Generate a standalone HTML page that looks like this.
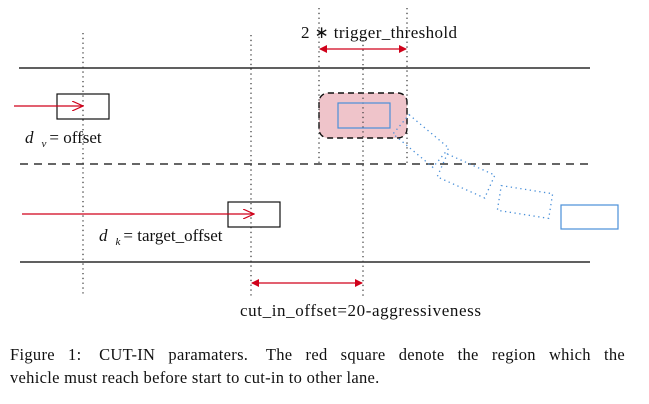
<!DOCTYPE html>
<html><head><meta charset="utf-8"><style>
body{margin:0;background:#fff;width:649px;height:404px;overflow:hidden;font-family:"Liberation Serif",serif}
svg{position:absolute;left:0;top:0}
.cap{position:absolute;left:10px;top:343px;width:615px;font-size:16.5px;line-height:23px;color:#111;letter-spacing:0.3px}
.l1{text-align:justify;text-align-last:justify;white-space:nowrap;display:flex;justify-content:space-between}
</style></head><body>
<svg width="649" height="404">
<defs>
<marker id="ah" markerWidth="8" markerHeight="8" refX="7" refY="4" orient="auto" markerUnits="userSpaceOnUse"><path d="M0,0 L8,4 L0,8 Z" fill="#d0021b"/></marker>
<marker id="ahs" markerWidth="8" markerHeight="8" refX="1" refY="4" orient="auto" markerUnits="userSpaceOnUse"><path d="M8,0 L0,4 L8,8 Z" fill="#d0021b"/></marker>
<marker id="oa" markerWidth="12" markerHeight="10" refX="11" refY="5" orient="auto" markerUnits="userSpaceOnUse"><path d="M0,0 L11,5 L0,10" fill="none" stroke="#d0021b" stroke-width="1.2"/></marker>
</defs>
<g>
<line x1="19" y1="68" x2="590" y2="68" stroke="#000" stroke-width="1.2"/>
<line x1="20" y1="164" x2="590" y2="164" stroke="#333" stroke-width="1.6" stroke-dasharray="8,6"/>
<line x1="20" y1="262" x2="590" y2="262" stroke="#000" stroke-width="1.2"/>
</g>
<rect x="319" y="93" width="88" height="45" rx="9" fill="#efc4ca" stroke="#111" stroke-width="1.4" stroke-dasharray="6,4"/>
<g stroke="#444" stroke-width="1.3" stroke-dasharray="1.3,3.5">
<line x1="83" y1="33" x2="83" y2="297"/>
<line x1="251" y1="35" x2="251" y2="297"/>
<line x1="319" y1="8" x2="319" y2="164"/>
<line x1="363" y1="40" x2="363" y2="297"/>
<line x1="407" y1="8" x2="407" y2="164"/>
</g>
<rect x="57" y="94" width="52" height="25" fill="none" stroke="#111" stroke-width="1.2"/>
<rect x="228" y="202" width="52" height="25" fill="none" stroke="#111" stroke-width="1.2"/>
<rect x="338" y="103" width="52" height="25" fill="none" stroke="#4a90d9" stroke-width="1.2"/>
<g fill="none" stroke="#4a90d9" stroke-width="1.3" stroke-dasharray="1.3,3.5">
<rect x="-26" y="-12.5" width="52" height="25" transform="translate(421,141) rotate(40)"/>
<rect x="-26" y="-12.5" width="52" height="25" transform="translate(466,176) rotate(24)"/>
<rect x="-26" y="-12.5" width="52" height="25" transform="translate(525,202) rotate(9)"/>
</g>
<rect x="561" y="205" width="57" height="24" fill="none" stroke="#4a90d9" stroke-width="1.2"/>
<line x1="14" y1="106" x2="83" y2="106" stroke="#d0021b" stroke-width="1.3" marker-end="url(#oa)"/>
<line x1="22" y1="214" x2="254" y2="214" stroke="#d0021b" stroke-width="1.3" marker-end="url(#oa)"/>
<line x1="320" y1="49" x2="406" y2="49" stroke="#d0021b" stroke-width="1.3" marker-start="url(#ahs)" marker-end="url(#ah)"/>
<line x1="252" y1="283" x2="362" y2="283" stroke="#d0021b" stroke-width="1.3" marker-start="url(#ahs)" marker-end="url(#ah)"/>
<g font-family="Liberation Serif, serif" font-size="17" fill="#111">
<text x="301" y="38" textLength="156" lengthAdjust="spacing">2 ∗ trigger_threshold</text>
<text x="25" y="143"><tspan font-style="italic">d</tspan><tspan font-size="11" font-style="italic" dx="8" dy="4">v</tspan><tspan dy="-4" dx="3">= offset</tspan></text>
<text x="99" y="241"><tspan font-style="italic">d</tspan><tspan font-size="11" font-style="italic" dx="8" dy="4">k</tspan><tspan dy="-4" dx="3">= target_offset</tspan></text>
<text x="240" y="316" textLength="241" lengthAdjust="spacing">cut_in_offset=20-aggressiveness</text>
</g>
</svg>
<div class="cap"><div class="l1"><span>Figure</span><span>1:</span><span>&nbsp;CUT-IN</span><span>paramaters.</span><span>&nbsp;The</span><span>red</span><span>square</span><span>denote</span><span>the</span><span>region</span><span>which</span><span>the</span></div><div>vehicle must reach before start to cut-in to other lane.</div></div>
</body></html>
